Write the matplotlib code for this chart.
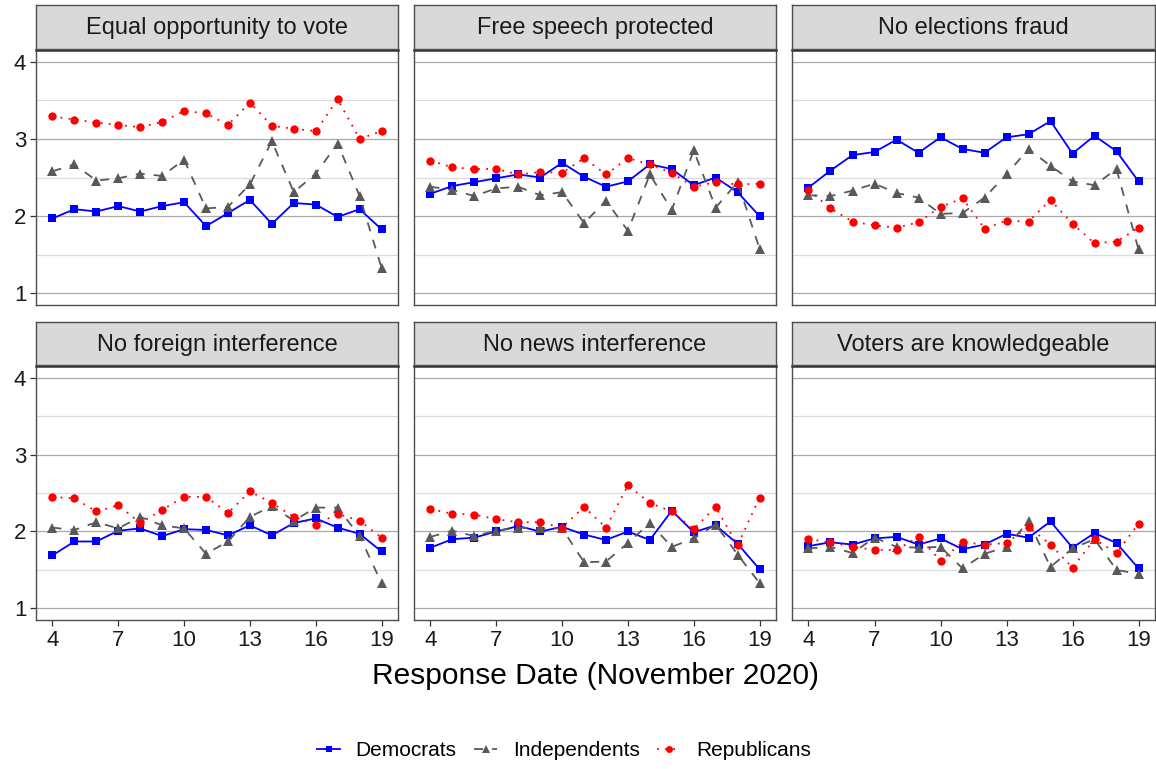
import matplotlib

matplotlib.use("Agg")
import matplotlib.pyplot as plt
from matplotlib.lines import Line2D

plt.rcParams["font.family"] = ["Liberation Sans", "DejaVu Sans"]

days = [4, 5, 6, 7, 8, 9, 10, 11, 12, 13, 14, 15, 16, 17, 18, 19]
x_ticks = [4, 7, 10, 13, 16, 19]
y_ticks = [1, 2, 3, 4]

titles = [
    "Equal opportunity to vote",
    "Free speech protected",
    "No elections fraud",
    "No foreign interference",
    "No news interference",
    "Voters are knowledgeable",
]

dem_equal = [1.97, 2.09, 2.06, 2.13, 2.06, 2.13, 2.18, 1.87, 2.04, 2.21, 1.90, 2.17, 2.15, 1.99, 2.09, 1.83]
ind_equal = [2.58, 2.67, 2.46, 2.49, 2.55, 2.52, 2.73, 2.10, 2.12, 2.41, 2.97, 2.31, 2.55, 2.94, 2.26, 1.33]
rep_equal = [3.29, 3.25, 3.21, 3.18, 3.15, 3.22, 3.36, 3.33, 3.18, 3.47, 3.17, 3.13, 3.10, 3.51, 3.00, 3.10]

dem_speech = [2.29, 2.39, 2.44, 2.49, 2.54, 2.50, 2.69, 2.51, 2.38, 2.45, 2.67, 2.61, 2.40, 2.50, 2.31, 2.00]
ind_speech = [2.38, 2.34, 2.26, 2.36, 2.38, 2.27, 2.31, 1.91, 2.20, 1.81, 2.54, 2.08, 2.85, 2.11, 2.44, 1.58]
rep_speech = [2.72, 2.63, 2.61, 2.61, 2.54, 2.57, 2.56, 2.75, 2.54, 2.75, 2.67, 2.56, 2.38, 2.44, 2.41, 2.42]

dem_fraud = [2.37, 2.59, 2.79, 2.83, 2.99, 2.82, 3.02, 2.87, 2.82, 3.02, 3.06, 3.23, 2.81, 3.04, 2.84, 2.45]
ind_fraud = [2.27, 2.26, 2.33, 2.42, 2.30, 2.24, 2.03, 2.04, 2.24, 2.54, 2.87, 2.65, 2.45, 2.40, 2.61, 1.57]
rep_fraud = [2.34, 2.10, 1.93, 1.88, 1.85, 1.92, 2.12, 2.23, 1.84, 1.94, 1.93, 2.21, 1.90, 1.65, 1.67, 1.85]

dem_foreign = [1.69, 1.87, 1.87, 2.01, 2.04, 1.94, 2.03, 2.02, 1.95, 2.08, 1.95, 2.11, 2.17, 2.05, 1.97, 1.74]
ind_foreign = [2.05, 2.02, 2.12, 2.04, 2.19, 2.08, 2.04, 1.71, 1.87, 2.19, 2.33, 2.14, 2.31, 2.31, 1.94, 1.33]
rep_foreign = [2.45, 2.43, 2.26, 2.34, 2.11, 2.28, 2.45, 2.45, 2.24, 2.52, 2.37, 2.19, 2.09, 2.23, 2.14, 1.92]

dem_news = [1.79, 1.90, 1.92, 2.00, 2.07, 2.00, 2.06, 1.96, 1.89, 2.00, 1.89, 2.27, 1.99, 2.08, 1.84, 1.51]
ind_news = [1.93, 2.01, 1.94, 2.01, 2.05, 2.04, 2.04, 1.60, 1.61, 1.85, 2.11, 1.80, 1.91, 2.09, 1.70, 1.33]
rep_news = [2.29, 2.23, 2.22, 2.16, 2.12, 2.12, 2.05, 2.32, 2.05, 2.60, 2.37, 2.26, 2.03, 2.32, 1.82, 2.44]

dem_know = [1.81, 1.86, 1.83, 1.91, 1.93, 1.83, 1.91, 1.77, 1.83, 1.97, 1.92, 2.13, 1.79, 1.98, 1.85, 1.52]
ind_know = [1.78, 1.80, 1.72, 1.92, 1.80, 1.79, 1.80, 1.52, 1.71, 1.80, 2.13, 1.54, 1.78, 1.90, 1.50, 1.45]
rep_know = [1.90, 1.86, 1.80, 1.76, 1.76, 1.93, 1.62, 1.86, 1.83, 1.85, 2.06, 1.83, 1.53, 1.90, 1.72, 2.10]

panel_data = [
    (dem_equal, ind_equal, rep_equal),
    (dem_speech, ind_speech, rep_speech),
    (dem_fraud, ind_fraud, rep_fraud),
    (dem_foreign, ind_foreign, rep_foreign),
    (dem_news, ind_news, rep_news),
    (dem_know, ind_know, rep_know),
]

series_names = ["Democrats", "Independents", "Republicans"]
styles = [
    dict(color="#0000FF", linestyle="-", marker="s", markersize=6),
    dict(color="#595959", linestyle=(0, (5, 5)), marker="^", markersize=7),
    dict(color="#FF0000", linestyle=(0, (1, 3.5)), marker="o", markersize=6),
]

W, H = 1156, 769
col_px = [(36, 398), (414, 776), (792, 1155)]
row_px = [(50, 305), (366, 620)]   # plot area top/bottom
strip_px = [(5, 49), (322, 365)]   # strip top/bottom

fig = plt.figure(figsize=(W / 100, H / 100), dpi=100)
border = "#4d4d4d"

for k, (title, data) in enumerate(zip(titles, panel_data)):
    r, c = divmod(k, 3)
    left, right = col_px[c]
    top, bottom = row_px[r]
    ax = fig.add_axes([left / W, 1 - bottom / H, (right - left) / W, (bottom - top) / H])

    for vals, st in zip(data, styles):
        ax.plot(days, vals, linewidth=1.3, markeredgewidth=0, **st)

    ax.set_xlim(3.25, 19.75)
    ax.set_ylim(0.85, 4.15)
    ax.set_xticks(x_ticks)
    ax.set_yticks(y_ticks)
    ax.set_yticks([1.5, 2.5, 3.5], minor=True)
    ax.grid(axis="y", which="major", color="#aaaaaa", linewidth=0.9)
    ax.grid(axis="y", which="minor", color="#dcdcdc", linewidth=0.9)
    ax.set_axisbelow(True)
    ax.tick_params(axis="y", which="minor", length=0)
    ax.tick_params(axis="both", which="major", length=4, width=0.9, color="#333333",
                   labelsize=16, labelcolor="#1a1a1a", pad=3)
    if c != 0:
        ax.tick_params(axis="y", which="major", length=0, labelleft=False)
    if r != 1:
        ax.tick_params(axis="x", which="major", length=0, labelbottom=False)
    for sp in ax.spines.values():
        sp.set_color(border)
        sp.set_linewidth(1.0)
    ax.spines["top"].set_color("#333333")
    ax.spines["top"].set_linewidth(1.8)

    s_top, s_bottom = strip_px[r]
    sax = fig.add_axes([left / W, 1 - s_bottom / H, (right - left) / W, (s_bottom - s_top) / H])
    sax.set_facecolor("#d9d9d9")
    sax.set_xticks([])
    sax.set_yticks([])
    for sp in sax.spines.values():
        sp.set_color(border)
        sp.set_linewidth(1.0)
    sax.text(0.5, 0.47, title, ha="center", va="center", fontsize=17,
             color="#1a1a1a", transform=sax.transAxes)

fig.text((36 + 1155) / 2 / W, 1 - 676 / H, "Response Date (November 2020)",
         ha="center", va="center", fontsize=21.5, color="black")

handles = [
    Line2D([], [], linewidth=1.3, markeredgewidth=0,
           **{**st, "markersize": st["markersize"] - 1})
    for st in styles
]
fig.legend(handles, series_names, loc="center", bbox_to_anchor=(564 / W, 1 - 751 / H),
           ncol=3, frameon=False, fontsize=15, handlelength=1.1,
           handletextpad=0.75, columnspacing=0.85)

fig.savefig("out.png", dpi=100)
